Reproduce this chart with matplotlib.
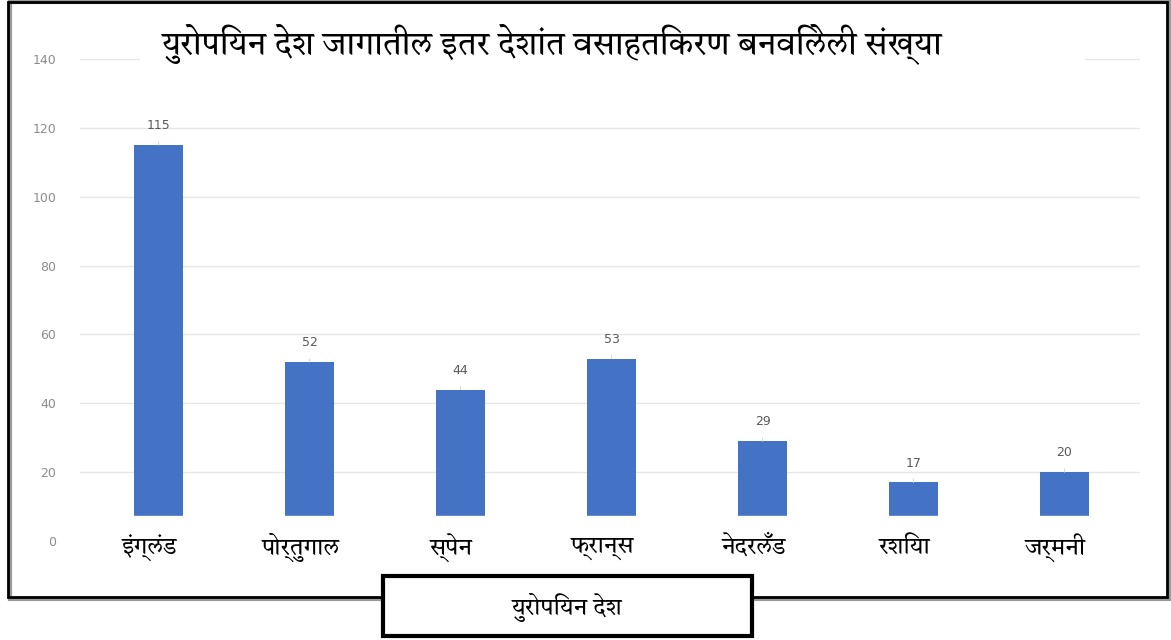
import matplotlib
matplotlib.use('Agg')
import matplotlib.pyplot as plt
from matplotlib.patches import Rectangle

# data
countries = ['इंग्लंड', 'पोर्तुगाल', 'स्पेन', 'फ्रान्स', 'नेदरलँड', 'रशिया', 'जर्मनी']
colonies = [115, 52, 44, 53, 29, 17, 20]
yticks = [0, 20, 40, 60, 80, 100, 120, 140]
title = 'युरोपियन देश जागातील इतर देशांत वसाहतिकरण बनविलेली संख्या'
xlabel = 'युरोपियन देश'

DEVA = ['Tiro Devanagari Marathi', 'Noto Serif Devanagari', 'DejaVu Sans']
BAR_COLOR = '#4472C4'

W, H = 1171, 640
fig = plt.figure(figsize=(W / 100, H / 100), dpi=100)
ax = fig.add_axes([80 / W, (H - 541) / H, 1060 / W, 482 / H])

x = list(range(len(countries)))
ax.bar(x, colonies, width=0.32, color=BAR_COLOR, zorder=2)

# data labels with faint leader lines
for i, v in zip(x, colonies):
    ax.annotate(str(v), xy=(i, v), xytext=(0, 14), textcoords='offset points',
                ha='center', va='center', fontsize=9, color='#595959',
                family='DejaVu Sans',
                arrowprops=dict(arrowstyle='-', color='#d9d9d9', lw=0.8,
                                shrinkA=5, shrinkB=0))

ax.set_xlim(-0.52, 6.5)
ax.set_ylim(0, 140)
ax.set_yticks(yticks)
ax.set_yticklabels([str(t) for t in yticks], fontsize=9, color='#8c8c8c')
ax.tick_params(axis='y', length=0, pad=17)
ax.set_xticks([])
ax.grid(axis='y', color='#e6e6e6', lw=1, zorder=0)
for s in ax.spines.values():
    s.set_visible(False)

# white band behind the category names (covers bar bottoms)
ax.axhspan(0, 7.3, color='white', zorder=3)
ax.add_patch(Rectangle((0, -0.06), 1.01, 0.06, transform=ax.transAxes,
                       color='white', zorder=3, clip_on=False))

for i, name in zip(x, countries):
    ax.text(i - 0.06, -2.0, name, ha='center', va='center', fontsize=17,
            family=DEVA, zorder=4)

# title, on a white strip that hides most of the top gridline
fig.patches.append(Rectangle((140 / W, 1 - 72 / H), 945 / W, 50 / H,
                             transform=fig.transFigure, facecolor='white',
                             edgecolor='none', zorder=4))
fig.text(552 / W, 1 - 44 / H, title, ha='center', va='center', fontsize=23.5,
         family=DEVA, zorder=5)

# outer frame with soft shadow
fig.patches.append(Rectangle((10 / W, 1 - 599 / H), 1160 / W, 597 / H,
                             transform=fig.transFigure, fill=False,
                             edgecolor='#9a9a9a', lw=3, zorder=1))
fig.patches.append(Rectangle((8 / W, 1 - 597 / H), 1159 / W, 595 / H,
                             transform=fig.transFigure, fill=False,
                             edgecolor='black', lw=2, zorder=2))

# x-axis title box
fig.text(567 / W, 1 - 607 / H, xlabel, ha='center', va='center', fontsize=17,
         family=DEVA, zorder=6)
fig.patches.append(Rectangle((383 / W, 1 - 636 / H), 369 / W, 60 / H,
                             transform=fig.transFigure, facecolor='white',
                             edgecolor='black', lw=3, zorder=5))

fig.savefig('out.png', dpi=100)
